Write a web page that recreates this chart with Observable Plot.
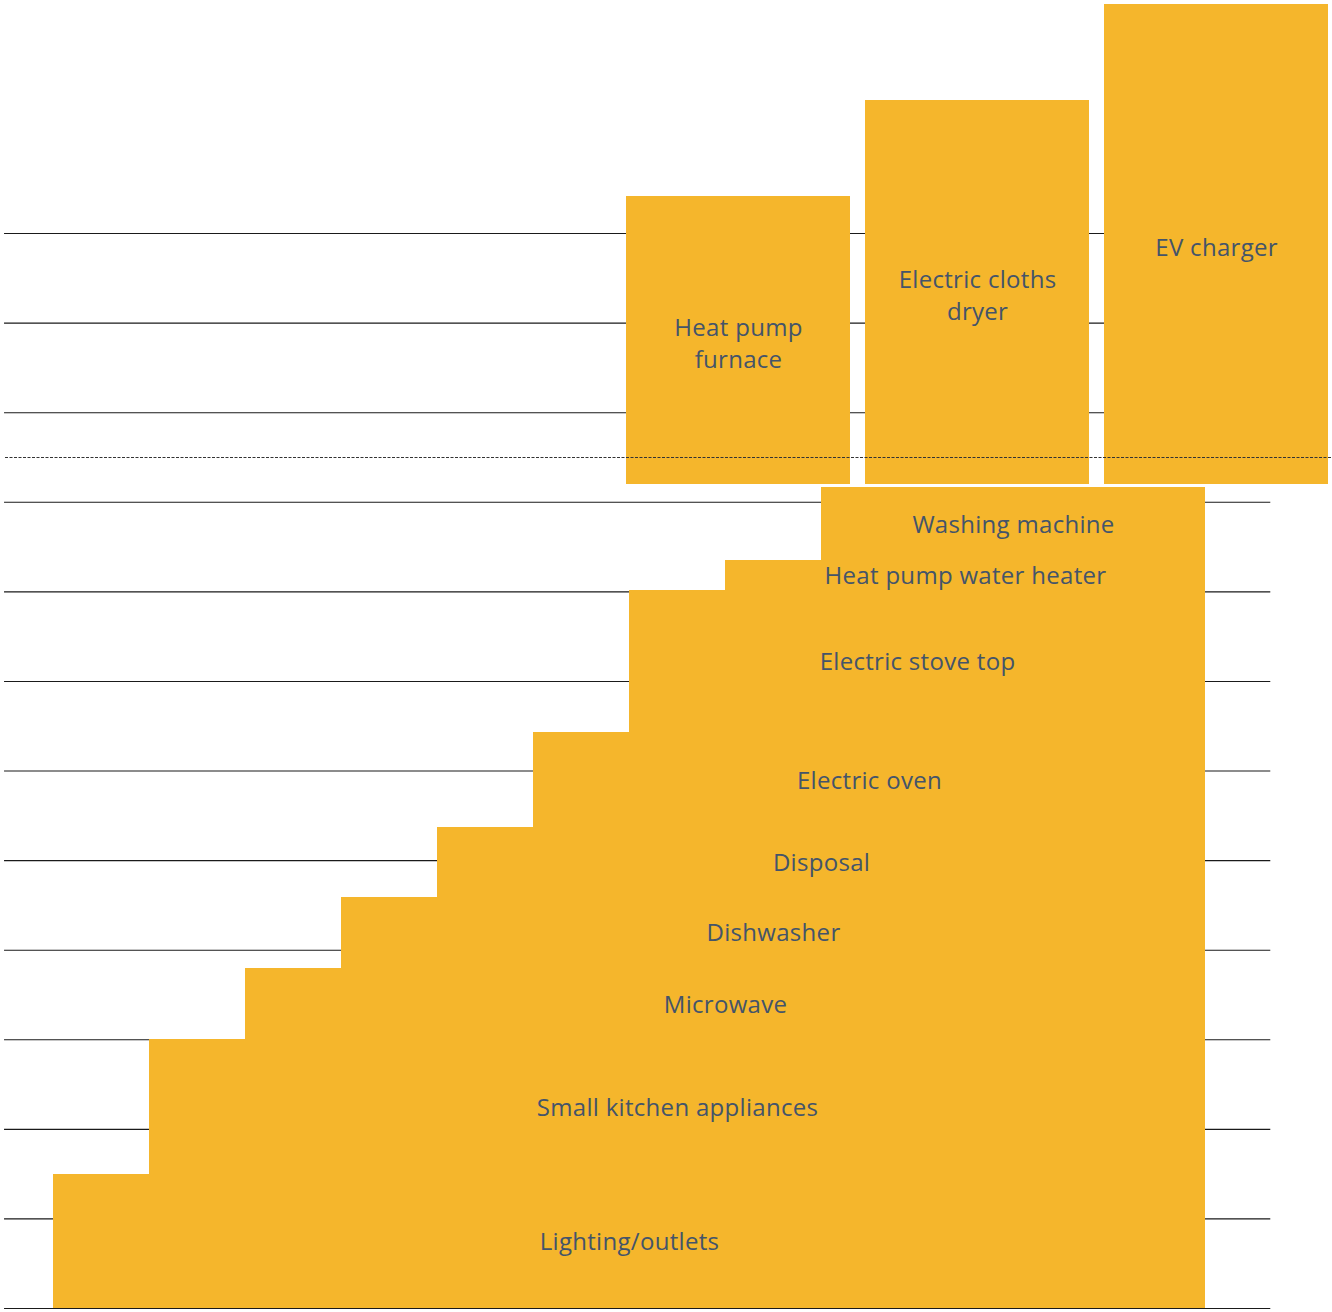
<!DOCTYPE html>
<html><head><meta charset="utf-8">
<script src="https://cdn.jsdelivr.net/npm/d3@7"></script>
<script src="https://cdn.jsdelivr.net/npm/@observablehq/plot@0.6"></script>
<style>html,body{margin:0;padding:0;background:#fff}</style>
</head><body><div id="chart"></div>
<script>
// Base household loads, stacked bottom to top
const baseLoads = ["Lighting/outlets", "Small kitchen appliances", "Microwave", "Dishwasher", "Disposal", "Electric oven", "Electric stove top", "Heat pump water heater", "Washing machine"];
const baseValues = [30, 30, 16, 15.8, 15.6, 21.2, 31.7, 6.7, 16.3];
// Large add-on loads shown as separate boxes on top
const addOnLoads = ["Heat pump\nfurnace", "Electric cloths\ndryer", "EV charger"];
const addOnValues = [64.3, 85.7, 107.1];
// Gridline values and the dotted limit line
const gridValues = [0, 20, 40, 60, 80, 100, 120, 140, 160, 180, 200, 220, 240];
const limitValue = 190;

const BAR = "#f5b62c";
const TEXT = "#44546a";

// stacked step rows (each row starts one step further right, all end at the same step)
let cum = 0;
const lastStep = 12;
const rows = baseLoads.map((name, i) => {
  const y1 = cum; cum += baseValues[i];
  return {name, x1: i, x2: lastStep, y1, y2: cum};
});
const total = cum;
const boxBase = total + 0.7;
const boxW = 2.333, boxGap = 0.157, boxStart = 5.969;
const boxes = addOnLoads.map((name, i) => ({
  name,
  x1: boxStart + i * (boxW + boxGap),
  x2: boxStart + i * (boxW + boxGap) + boxW,
  y1: boxBase, y2: boxBase + addOnValues[i]
}));

const chart = Plot.plot({
  width: 1332, height: 1312,
  marginTop: 4, marginBottom: 4, marginLeft: 0, marginRight: 0,
  x: {domain: [-53/96, 1279/96], axis: null},
  y: {domain: [0, 1304/4.479], axis: null},
  style: {fontFamily: "'Open Sans', sans-serif", background: "#fff"},
  marks: [
    Plot.ruleY(gridValues, {x1: -0.51, x2: 12.68, stroke: "#1a1a1a", strokeWidth: 1.1}),
    Plot.rect(rows, {x1: "x1", x2: "x2", y1: "y1", y2: "y2", fill: BAR, shapeRendering: "crispEdges"}),
    Plot.rect(boxes, {x1: "x1", x2: "x2", y1: "y1", y2: "y2", fill: BAR, shapeRendering: "crispEdges"}),
    Plot.ruleY([limitValue], {x1: -0.5, x2: 13.33, stroke: "#333", strokeWidth: 1.2, strokeDasharray: "3,1.5"}),
    Plot.text(rows, {x: d => (d.x1 + d.x2) / 2, y: d => (d.y1 + d.y2) / 2, dy: 1, text: "name", fill: TEXT, fontSize: 24, style: "letter-spacing:0.3px"}),
    Plot.text(boxes, {x: d => (d.x1 + d.x2) / 2, y: d => (d.y1 + d.y2) / 2, dy: 1, text: "name", fill: TEXT, fontSize: 24, lineHeight: 1.33})
  ]
});
chart.querySelectorAll("text").forEach(t => t.style.letterSpacing = "0.3px");
document.getElementById("chart").appendChild(chart);
</script>
</body></html>
